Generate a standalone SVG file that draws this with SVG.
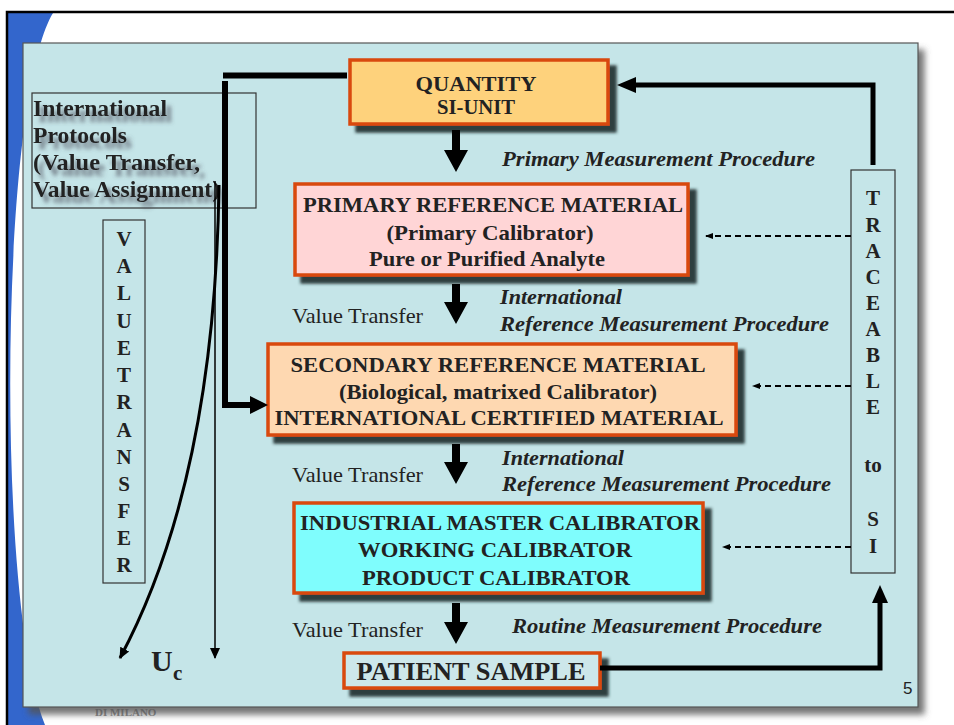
<svg xmlns="http://www.w3.org/2000/svg" width="954" height="725" viewBox="0 0 954 725">
<defs>
<style>
.b{font-family:"Liberation Serif","Times New Roman",serif;font-weight:bold;fill:#222}
.bi{font-family:"Liberation Serif","Times New Roman",serif;font-weight:bold;font-style:italic;fill:#222;font-size:22px}
.r{font-family:"Liberation Serif","Times New Roman",serif;fill:#222;font-size:21.5px}
.node{stroke:#d9480f;stroke-width:3.5}
.thin{fill:none;stroke:#333;stroke-width:1.2}
.dash{fill:none;stroke:#000;stroke-width:1.8;stroke-dasharray:6 4}
.thick{fill:none;stroke:#000;stroke-width:6}
</style>
<filter id="nsh" x="-10%" y="-10%" width="130%" height="140%">
<feDropShadow dx="7" dy="7" stdDeviation="1.8" flood-color="#1e2e2e" flood-opacity="0.9"/>
</filter>
<filter id="psh" x="-5%" y="-5%" width="110%" height="110%">
<feDropShadow dx="6" dy="7" stdDeviation="3" flood-color="#555" flood-opacity="0.8"/>
</filter>
<filter id="tsh" x="-10%" y="-20%" width="130%" height="160%">
<feDropShadow dx="5" dy="6" stdDeviation="2.2" flood-color="#445" flood-opacity="0.7"/>
</filter>
<marker id="ah" markerWidth="8" markerHeight="8" refX="7" refY="4" orient="auto" markerUnits="userSpaceOnUse">
<path d="M0,1 L8,4 L0,7 z" fill="#000"/>
</marker>
<marker id="ahm" markerWidth="12" markerHeight="12" refX="10" refY="6" orient="auto" markerUnits="userSpaceOnUse">
<path d="M0,1 L11,6 L0,11 z" fill="#000"/>
</marker>
</defs>

<!-- background slide -->
<rect x="0" y="0" width="954" height="725" fill="#fff"/>
<path d="M8,13 L53,13 C0,100 -5,600 45,725 L8,725 Z" fill="#3366cc"/>
<path d="M7,725 L7,12 L954,12" fill="none" stroke="#000" stroke-width="2.5"/>
<text x="95" y="716" font-family="Liberation Serif, serif" font-weight="bold" font-size="11" fill="#8a8a8a">DI MILANO</text>
<rect x="23" y="43" width="895" height="664" fill="#c5e5e8" stroke="#555" stroke-width="1.2" filter="url(#psh)"/>
<text x="903" y="694" font-family="Liberation Sans, Arial, sans-serif" font-size="17" fill="#222">5</text>

<!-- left boxes -->
<g id="protocols">
<rect x="32" y="93" width="224" height="115" class="thin"/>
<g class="b" font-size="23" filter="url(#tsh)">
<text x="33" y="116" textLength="134" lengthAdjust="spacingAndGlyphs">International</text>
<text x="33" y="143" textLength="94" lengthAdjust="spacingAndGlyphs">Protocols</text>
<text x="33" y="170" textLength="167" lengthAdjust="spacingAndGlyphs">(Value Transfer,</text>
<text x="33" y="197" textLength="187" lengthAdjust="spacingAndGlyphs">Value Assignment)</text>
</g>
</g>

<g id="value-transfer">
<rect x="103" y="220" width="42" height="363" class="thin"/>
<g class="b" font-size="21" text-anchor="middle">
<text x="124" y="246">V</text>
<text x="124" y="273">A</text>
<text x="124" y="300">L</text>
<text x="124" y="328">U</text>
<text x="124" y="355">E</text>
<text x="124" y="382">T</text>
<text x="124" y="409">R</text>
<text x="124" y="437">A</text>
<text x="124" y="464">N</text>
<text x="124" y="491">S</text>
<text x="124" y="518">F</text>
<text x="124" y="545">E</text>
<text x="124" y="572">R</text>
</g>
</g>

<g id="traceable">
<rect x="851" y="170" width="44" height="403" class="thin"/>
<g class="b" font-size="21" text-anchor="middle">
<text x="873" y="205">T</text>
<text x="873" y="232">R</text>
<text x="873" y="258">A</text>
<text x="873" y="284">C</text>
<text x="873" y="310">E</text>
<text x="873" y="336">A</text>
<text x="873" y="362">B</text>
<text x="873" y="388">L</text>
<text x="873" y="414">E</text>
<text x="873" y="472">to</text>
<text x="873" y="526">S</text>
<text x="873" y="553">I</text>
</g>
</g>

<!-- nodes -->
<g id="quantity">
<rect x="350" y="60" width="258" height="64" fill="#fed27c" class="node" filter="url(#nsh)"/>
<g class="b" font-size="22" text-anchor="middle">
<text x="476" y="91" textLength="121" lengthAdjust="spacingAndGlyphs">QUANTITY</text>
<text x="476" y="114" textLength="78" lengthAdjust="spacingAndGlyphs">SI-UNIT</text>
</g>
</g>

<g id="primary">
<rect x="295" y="184" width="393" height="91" fill="#ffd5d6" class="node" filter="url(#nsh)"/>
<g class="b" font-size="22" text-anchor="middle">
<text x="493" y="212" textLength="380" lengthAdjust="spacingAndGlyphs">PRIMARY REFERENCE MATERIAL</text>
<text x="490" y="240" textLength="207" lengthAdjust="spacingAndGlyphs">(Primary Calibrator)</text>
<text x="487" y="266" textLength="236" lengthAdjust="spacingAndGlyphs">Pure or Purified Analyte</text>
</g>
</g>

<g id="secondary">
<rect x="268" y="344" width="468" height="91" fill="#fed8b1" class="node" filter="url(#nsh)"/>
<g class="b" font-size="22" text-anchor="middle">
<text x="498" y="372" textLength="415" lengthAdjust="spacingAndGlyphs">SECONDARY REFERENCE MATERIAL</text>
<text x="498" y="399" textLength="318" lengthAdjust="spacingAndGlyphs">(Biological, matrixed Calibrator)</text>
<text x="499" y="425" textLength="449" lengthAdjust="spacingAndGlyphs">INTERNATIONAL CERTIFIED MATERIAL</text>
</g>
</g>

<g id="industrial">
<rect x="294" y="503" width="409" height="90" fill="#7ffdfd" class="node" filter="url(#nsh)"/>
<g class="b" font-size="22" text-anchor="middle">
<text x="500" y="530" textLength="400" lengthAdjust="spacingAndGlyphs">INDUSTRIAL MASTER CALIBRATOR</text>
<text x="495" y="557" textLength="274" lengthAdjust="spacingAndGlyphs">WORKING CALIBRATOR</text>
<text x="496" y="585" textLength="268" lengthAdjust="spacingAndGlyphs">PRODUCT CALIBRATOR</text>
</g>
</g>

<g id="patient">
<rect x="344" y="653" width="256" height="35" fill="#cde7ea" class="node" filter="url(#nsh)"/>
<text x="471" y="680" class="b" font-size="26" text-anchor="middle" textLength="229" lengthAdjust="spacingAndGlyphs">PATIENT SAMPLE</text>
</g>

<!-- labels -->
<g id="labels">
<text x="502" y="166" class="bi" textLength="313" lengthAdjust="spacingAndGlyphs">Primary Measurement Procedure</text>
<text x="500" y="304" class="bi" textLength="122" lengthAdjust="spacingAndGlyphs">International</text>
<text x="500" y="331" class="bi" textLength="329" lengthAdjust="spacingAndGlyphs">Reference Measurement Procedure</text>
<text x="502" y="465" class="bi" textLength="122" lengthAdjust="spacingAndGlyphs">International</text>
<text x="502" y="491" class="bi" textLength="329" lengthAdjust="spacingAndGlyphs">Reference Measurement Procedure</text>
<text x="512" y="633" class="bi" textLength="310" lengthAdjust="spacingAndGlyphs">Routine Measurement Procedure</text>
<text x="292" y="323" class="r" textLength="131" lengthAdjust="spacingAndGlyphs">Value Transfer</text>
<text x="292" y="482" class="r" textLength="131" lengthAdjust="spacingAndGlyphs">Value Transfer</text>
<text x="292" y="637" class="r" textLength="131" lengthAdjust="spacingAndGlyphs">Value Transfer</text>
<text x="151" y="671" class="b" font-size="30">U</text>
<text x="173" y="680" class="b" font-size="21">c</text>
</g>

<!-- connectors -->
<g id="connectors">
<!-- block arrows down -->
<path d="M452,130 H460 V150 H468 L456,172 L444,150 H452 Z" fill="#000"/>
<path d="M452,284 H460 V302 H468 L456,324 L444,302 H452 Z" fill="#000"/>
<path d="M452,444 H460 V462 H468 L456,484 L444,462 H452 Z" fill="#000"/>
<path d="M452,603 H460 V622 H468 L456,644 L444,622 H452 Z" fill="#000"/>

<!-- traceable to quantity -->
<path d="M873,165 V85 H632" fill="none" stroke="#000" stroke-width="5"/>
<path d="M617,85 L636,77 L636,93 Z" fill="#000"/>

<!-- patient to traceable -->
<path d="M600,668 H880 V602" fill="none" stroke="#000" stroke-width="5"/>
<path d="M880,585 L872,603 L888,603 Z" fill="#000"/>

<!-- dashed -->
<path d="M851,236 H706" class="dash" marker-end="url(#ah)"/>
<path d="M851,386 H753" class="dash" marker-end="url(#ah)"/>
<path d="M851,547 H723" class="dash" marker-end="url(#ah)"/>

<!-- left L connector -->
<path d="M223,75.5 H347" class="thick"/>
<path d="M225,81 V405 H252" class="thick"/>
<path d="M268,405 L250,396 L250,414 Z" fill="#000"/>

<!-- thin vertical arrow -->
<path d="M215,181 V658" fill="none" stroke="#000" stroke-width="1.5" marker-end="url(#ahm)"/>

<!-- curve -->
<path d="M219,185 Q215,480 120,658" fill="none" stroke="#000" stroke-width="3" marker-end="url(#ahm)"/>
</g>
</svg>
